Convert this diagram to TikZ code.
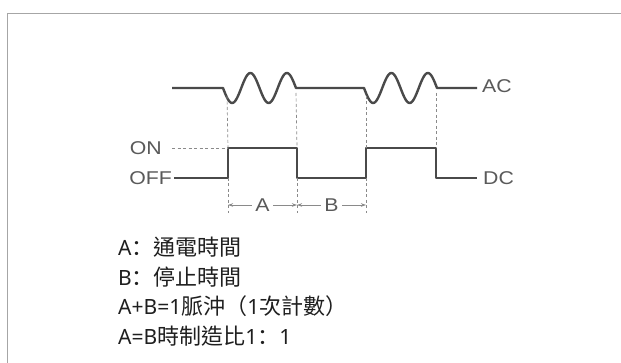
\documentclass[tikz,border=0pt]{standalone}
\usepackage{fontspec}
\usetikzlibrary{arrows.meta}
\newfontfamily\lblfont[FakeStretch=1.15]{Liberation Sans}
\newfontfamily\latfont[Scale=0.955]{Noto Sans}
\newfontfamily\cjkfont{Noto Sans CJK TC}
\newfontfamily\cjkpunct{Noto Sans CJK SC}
\definecolor{wave}{HTML}{4A4A4A}
\definecolor{lblc}{HTML}{5A5A5A}
\definecolor{thin}{HTML}{8A8A8A}
\tikzset{
  sig/.style={draw=wave, line width=2.4pt, line join=round},
  guide/.style={draw=thin, line width=0.7pt, dash pattern=on 3pt off 2.5pt},
  dim/.style={draw=thin, line width=0.7pt, {Stealth[length=5pt,width=3.5pt]}-{Stealth[length=5pt,width=3.5pt]}},
  lbl/.style={text=lblc, font=\lblfont\fontsize{18.5}{20}\selectfont, inner sep=1pt},
  note/.style={anchor=base west, inner sep=0pt, text=black!88, font=\fontsize{22}{26}\selectfont},
  frame/.style={draw=black!35, line width=0.8pt}
}
\begin{document}
\begin{tikzpicture}[x=1pt,y=-1pt]
\useasboundingbox (0,0) rectangle (621,363);
\fill[white] (0,0) rectangle (621,363);
% frame
\draw[frame] (7,363) -- (7,13) -- (621,13);
% key coordinates
\coordinate (acS) at (172,88);
\coordinate (w1a) at (223,88);
\coordinate (w2a) at (364,88);
\coordinate (acE) at (477,88);
\coordinate (dcS) at (174,178);
\coordinate (r1) at (228,178);
\coordinate (r1t) at (228,148);
\coordinate (f1t) at (297,148);
\coordinate (f1) at (297,178);
\coordinate (r2) at (366,178);
\coordinate (r2t) at (366,148);
\coordinate (f2t) at (436,148);
\coordinate (f2) at (436,178);
\coordinate (dcE) at (477,178);
% AC signal
\draw[sig] (acS) -- (w1a)
  -- plot[domain=223:296, samples=80, smooth] (\x, {88+15*sin(9.863*(\x-223))})
  -- (w2a)
  -- plot[domain=364:437, samples=80, smooth] (\x, {88+15*sin(9.863*(\x-364))})
  -- (acE);
% DC signal
\draw[sig] (dcS) -- (r1) -- (r1t) -- (f1t) -- (f1) -- (r2) -- (r2t) -- (f2t) -- (f2) -- (dcE);
% guides
\coordinate (g1) at (227,96);
\coordinate (g2) at (296,93);
\coordinate (g3) at (366,96);
\coordinate (g4) at (436,93);
\draw[guide] (g1) -- (r1t);
\draw[guide] (g2) -- (f1t);
\draw[guide] (g3) -- (r2t);
\draw[guide] (g4) -- (f2t);
\coordinate (onS) at (172,148);
\draw[guide] (onS) -- (r1t);
% ticks below
\coordinate (t1) at (228,213);
\coordinate (t2) at (297,213);
\coordinate (t3) at (366,213);
\draw[guide] (r1) -- (t1);
\draw[guide] (f1) -- (t2);
\draw[guide] (r2) -- (t3);
% dimension arrows
\coordinate (d1) at (228,205);
\coordinate (d2) at (297,205);
\coordinate (d3) at (366,205);
\draw[dim] (d1) -- (d2);
\draw[dim] (d2) -- (d3);
\node[lbl, fill=white, inner xsep=3pt] (la) at (262.5,205) {A};
\node[lbl, fill=white, inner xsep=3pt] (lb) at (331.5,205) {B};
% labels
\node[lbl, anchor=east] (on) at (163,148) {ON};
\node[lbl, anchor=east] (off) at (173,178.5) {OFF};
\node[lbl, anchor=west] (ac) at (481,86) {AC};
\node[lbl, anchor=west] (dc) at (482,178.5) {DC};
% notes
\node[note] (n1) at (118,256) {{\latfont A}{\cjkpunct ：}{\cjkfont 通電時間}};
\node[note] (n2) at (118,286) {{\latfont B}{\cjkpunct ：}{\cjkfont 停止時間}};
\node[note] (n3) at (118,315) {{\latfont A+B=1}{\cjkfont 脈沖（}{\latfont 1}{\cjkfont 次計數）}};
\node[note] (n4) at (118,344) {{\latfont A=B}{\cjkfont 時制造比}{\latfont 1}{\cjkpunct ：}{\latfont 1}};
\end{tikzpicture}
\end{document}
